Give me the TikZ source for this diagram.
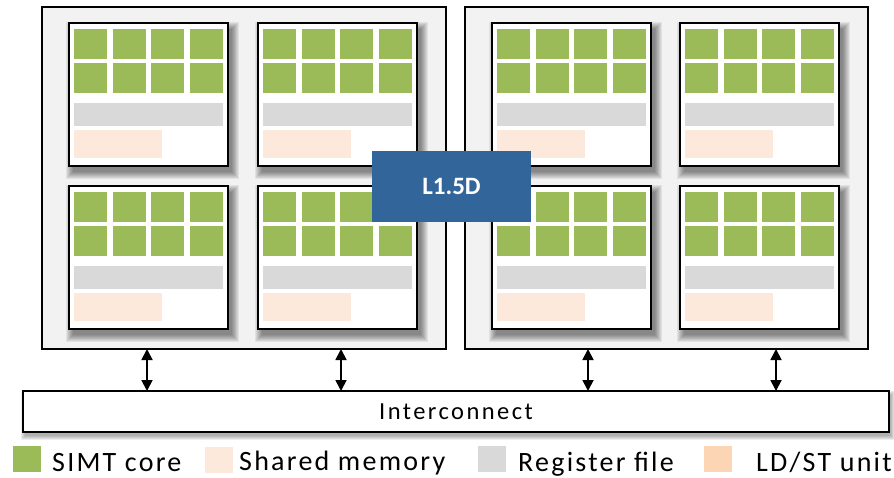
\documentclass[tikz,border=0pt]{standalone}
\usepackage{fontspec}
\setmainfont{Carlito}
\newfontfamily\trackedfont[LetterSpace=8]{Carlito}
\newfontfamily\widefont[LetterSpace=10]{Carlito}
\usetikzlibrary{arrows.meta}

\definecolor{simtgreen}{HTML}{9BBB59}
\definecolor{shmem}{HTML}{FCE9DC}
\definecolor{regfile}{HTML}{D9D9D9}
\definecolor{ldst}{HTML}{FCD5B5}
\definecolor{clusterbg}{HTML}{F2F2F2}
\definecolor{l15blue}{HTML}{32659A}

\tikzset{
  box/.style={anchor=north west, inner sep=0pt, outer sep=0pt},
  cluster/.style={box, draw=black, line width=1.5pt, fill=clusterbg,
    minimum width=#1, minimum height=342pt},
  smbox/.style={box, draw=black, line width=2pt, fill=white,
    minimum width=159pt, minimum height=143pt},
  keybox/.style={box, minimum width=28pt, minimum height=26pt},
  keytext/.style={anchor=base west, inner sep=0pt,
    font=\trackedfont\fontsize{28}{30}\selectfont},
  biarrow/.style={line width=1.8pt,
    {Triangle[length=11pt,width=11pt]}-{Triangle[length=11pt,width=11pt]}},
  % one streaming multiprocessor: 2x4 SIMT cores, register file, shared memory
  sm/.pic={
    \foreach \r in {0,...,7}
      \fill[black, opacity=0.065] (4-\r,6-\r) rectangle (163+\r,149+\r);
    \node[smbox] (-box) at (0,0) {};
    \foreach \cx in {5,44,82,121}
      \foreach \cy in {6,40}
        \fill[simtgreen] (\cx,\cy) rectangle ++(33,30);
    \fill[regfile] (5,80) rectangle (154,103);
    \fill[shmem] (5,107) rectangle (93,135);
  }
}

\begin{document}
\begin{tikzpicture}[x=1pt,y=-1pt]
\useasboundingbox (0,0) rectangle (894,477);

% two clusters
\node[cluster=404pt] (cl1) at (42,7) {};
\node[cluster=403pt] (cl2) at (465,7) {};

% streaming multiprocessors
\pic (sm1) at (69,23) {sm};
\pic (sm2) at (258,23) {sm};
\pic (sm3) at (69,186) {sm};
\pic (sm4) at (258,186) {sm};
\pic (sm5) at (492,23) {sm};
\pic (sm6) at (680,23) {sm};
\pic (sm7) at (492,186) {sm};
\pic (sm8) at (680,186) {sm};

% shared L1.5 cache
\node[box, fill=l15blue, minimum width=159pt, minimum height=71pt,
  text=white, font=\bfseries\fontsize{25}{27}\selectfont] (l15) at (372,151) {L1.5D};

% interconnect with soft shadow
\foreach \r in {0,...,4}
  \fill[black, opacity=0.07] (25-\r,395-\r) rectangle (891+\r,436+\r);
\node[box, draw=black, line width=1.3pt, fill=white, minimum width=866pt,
  minimum height=41pt, font=\widefont\fontsize{24.5}{26}\selectfont]
  (ic) at (23,391) {Interconnect};

% links between clusters and interconnect
\coordinate (a1) at (147,0);
\coordinate (a2) at (341,0);
\coordinate (a3) at (588,0);
\coordinate (a4) at (776,0);
\draw[biarrow] (cl1.south -| a1) -- (ic.north -| a1);
\draw[biarrow] (cl1.south -| a2) -- (ic.north -| a2);
\draw[biarrow] (cl2.south -| a3) -- (ic.north -| a3);
\draw[biarrow] (cl2.south -| a4) -- (ic.north -| a4);

% legend
\node[keybox, fill=simtgreen] (k1) at (13,446) {};
\node[keytext] (t1) at (52,471) {SIMT core};
\node[keybox, fill=shmem] (k2) at (205,447) {};
\node[keytext] (t2) at (239,470) {Shared memory};
\node[keybox, fill=regfile] (k3) at (478,446) {};
\node[keytext] (t3) at (518,471) {Register file};
\node[keybox, fill=ldst] (k4) at (704,446) {};
\node[keytext] (t4) at (756,471) {LD/ST unit};
\end{tikzpicture}
\end{document}
